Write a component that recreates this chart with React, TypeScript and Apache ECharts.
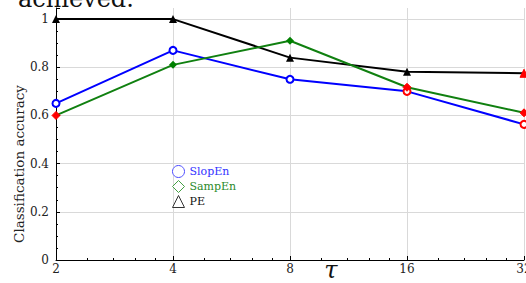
import React, { useEffect, useRef } from "react";
import * as echarts from "echarts";

const tau = [2, 4, 8, 16, 32];
const slopEn = [0.65, 0.87, 0.75, 0.70, 0.563];
const sampEn = [0.60, 0.81, 0.91, 0.717, 0.611];
const pe = [1.0, 1.0, 0.84, 0.781, 0.775];
const slopEnSig = [false, false, false, true, true];
const sampEnSig = [true, false, false, true, true];
const peSig = [false, false, false, false, true];
const yTicks = [0, 0.2, 0.4, 0.6, 0.8, 1];

const SERIF = "'DejaVu Serif', 'Liberation Serif', serif";
const RED = "#ff0000";

function build(values: number[], sig: boolean[]) {
  return values.map((v, i) => {
    const item: any = { value: [tau[i], v] };
    if (sig[i]) item.itemStyle = { color: RED, borderColor: RED };
    return item;
  });
}

export default function App() {
  const ref = useRef<HTMLDivElement>(null);
  useEffect(() => {
    if (!ref.current) return;
    const chart = echarts.init(ref.current, undefined, { renderer: "svg" });
    chart.setOption({
      animation: false,
      grid: { left: 56, right: 2, top: 8, bottom: 23, outerBoundsMode: "none", containLabel: false },
      xAxis: {
        type: "log",
        logBase: 2,
        min: 2,
        max: 32,
        axisLine: { lineStyle: { color: "#000", width: 1 } },
        axisTick: { inside: true, length: 4, lineStyle: { color: "#000" } },
        minorTick: { show: true, splitNumber: 5, length: 2, lineStyle: { color: "#000" } },
        axisLabel: { fontFamily: SERIF, fontSize: 12, color: "#222", margin: 3 },
        splitLine: { show: true, lineStyle: { color: "#d9d9d9", width: 1 } },
      },
      yAxis: {
        type: "value",
        min: 0,
        max: 1.046,
        interval: 0.2,
        axisLine: { show: true, lineStyle: { color: "#000", width: 1 } },
        axisTick: { show: true, inside: true, length: 4, lineStyle: { color: "#000" } },
        minorTick: { show: true, splitNumber: 4, length: 2, lineStyle: { color: "#000" } },
        axisLabel: {
          fontFamily: SERIF,
          fontSize: 12,
          color: "#222",
          margin: 7,
          showMaxLabel: false,
          formatter: (v: number) => (yTicks.some((t) => Math.abs(t - v) < 1e-9) ? String(+v.toFixed(1)) : ""),
        },
        splitLine: { show: true, showMaxLine: false, lineStyle: { color: "#d9d9d9", width: 1 } },
      },
      legend: {
        orient: "vertical",
        left: 172,
        top: 165,
        itemWidth: 12,
        itemHeight: 12,
        itemGap: 2,
        itemTextGap: 4,
        padding: 0,
        textStyle: { fontFamily: SERIF, fontSize: 11 },
        data: [
          { name: "SlopEn", icon: "circle", itemStyle: { color: "#fff", borderColor: "#4d4dff", borderWidth: 1 }, textStyle: { color: "#3333ff" } },
          { name: "SampEn", icon: "diamond", itemStyle: { color: "#fff", borderColor: "#45a045", borderWidth: 1 }, textStyle: { color: "#2a8a2a" } },
          { name: "PE", icon: "triangle", itemStyle: { color: "#fff", borderColor: "#333", borderWidth: 1 }, textStyle: { color: "#111" } },
        ],
      },
      graphic: [
        {
          type: "text",
          x: 18,
          y: 11,
          style: { text: "achieved.", fontFamily: SERIF, fontSize: 24, fill: "#111", verticalAlign: "bottom" },
        },
        {
          type: "text",
          x: 19,
          y: 164,
          rotation: Math.PI / 2,
          style: {
            text: "Classification accuracy",
            fontFamily: SERIF,
            fontSize: 13.5,
            fill: "#222",
            align: "center",
            verticalAlign: "middle",
          },
        },
        {
          type: "text",
          x: 331,
          y: 270,
          style: {
            text: "τ",
            fontFamily: SERIF,
            fontStyle: "italic",
            fontSize: 24,
            fill: "#111",
            align: "center",
            verticalAlign: "middle",
          },
        },
      ],
      series: [
        {
          name: "SlopEn",
          type: "line",
          data: build(slopEn, slopEnSig),
          symbol: "emptyCircle",
          symbolSize: 7,
          color: "#0000ff",
          lineStyle: { width: 2, color: "#0000ff" },
          itemStyle: { borderWidth: 2 },
          z: 3,
        },
        {
          name: "SampEn",
          type: "line",
          data: build(sampEn, sampEnSig),
          symbol: "diamond",
          symbolSize: 8,
          color: "#008000",
          lineStyle: { width: 2, color: "#108010" },
          z: 4,
        },
        {
          name: "PE",
          type: "line",
          data: build(pe, peSig),
          symbol: "triangle",
          symbolSize: 8,
          color: "#000",
          lineStyle: { width: 2, color: "#000" },
          z: 2,
        },
      ],
    });
    return () => chart.dispose();
  }, []);
  return <div ref={ref} style={{ width: 526, height: 283, position: "absolute", left: 0, top: 0 }} />;
}
